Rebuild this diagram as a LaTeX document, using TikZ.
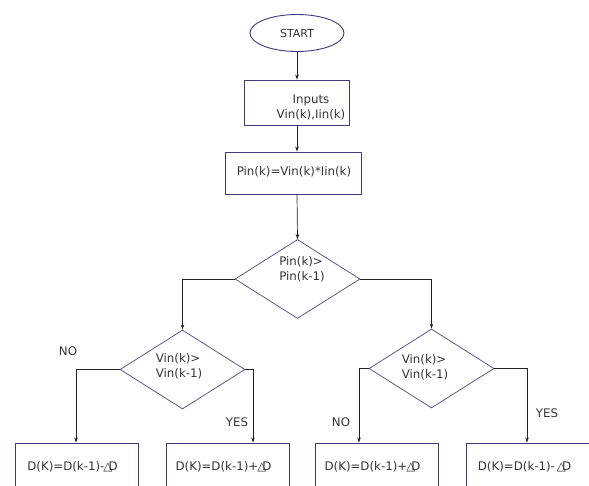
\documentclass[tikz,border=0pt]{standalone}
\usepackage{fontspec}
\setmainfont{DejaVu Sans}
\usetikzlibrary{shapes.geometric,arrows.meta}
\definecolor{shapeline}{HTML}{3C3C7E}
\definecolor{txt}{HTML}{333333}
\definecolor{conn}{HTML}{222222}
\begin{document}
\begin{tikzpicture}[x=1pt,y=-1pt,
  every node/.style={text=txt,font=\fontsize{11.8}{15}\selectfont},
  term/.style={ellipse,draw=shapeline,line width=0.9pt,minimum width=94,minimum height=37,inner sep=0pt},
  procbox/.style={rectangle,draw=shapeline,line width=0.9pt,inner sep=0pt},
  decision/.style={diamond,draw=shapeline!85!white,line width=0.8pt,minimum width=125,minimum height=79,inner sep=0pt,aspect=1.6},
  lbl/.style={inner sep=0pt},
  arr/.style={draw=conn,line width=0.7pt,-{Stealth[length=5pt,width=3.5pt]}}]
\path[use as bounding box] (0,0) rectangle (589,485);
\clip (0,0) rectangle (589,485);
% top
\node[term] (start) at (297,33) {\fontsize{11}{13}\selectfont START};
\node[procbox,minimum width=105,minimum height=45] (inputs) at (296.5,102.5) {};
\node[lbl,align=center] (inputstxt) at (311,107) {Inputs\\Vin(k),Iin(k)};
\node[procbox,minimum width=136,minimum height=42] (pin) at (293,173) {};
\node[lbl] (pintxt) at (294,172) {Pin(k)=Vin(k)*Iin(k)};
% decisions
\node[decision] (d1) at (297.5,279) {};
\node[lbl,align=left] (d1txt) at (302,269.5) {Pin(k)>\\Pin(k-1)};
\node[decision] (d2) at (182.5,369.5) {};
\node[lbl,align=left] (d2txt) at (179,366) {Vin(k)>\\Vin(k-1)};
\node[decision] (d3) at (431.5,368.5) {};
\node[lbl,align=left] (d3txt) at (425,367) {Vin(k)>\\Vin(k-1)};
% bottom boxes
\node[procbox,minimum width=123,minimum height=47] (b1) at (76.5,466.5) {D(K)=D(k-1)-\kern-1pt△\kern-4ptD\kern8pt};
\node[procbox,minimum width=123,minimum height=47] (b2) at (227.5,466.5) {D(K)=D(k-1)+\kern-1pt△\kern-4ptD\kern8pt};
\node[procbox,minimum width=123,minimum height=47] (b3) at (376.5,466.5) {D(K)=D(k-1)+\kern-1pt△\kern-4ptD\kern8pt};
\node[procbox,minimum width=123,minimum height=47] (b4) at (527.5,466.5) {D(K)=D(k-1)-\,△\kern-4ptD\kern6pt};
% connectors
\draw[arr] (start.south) -- (inputs.north -| start.south);
\draw[arr] (inputs.south -| start.south) -- (pin.north -| start.south);
\draw[arr] (pin.south -| start.south) -- (d1.north);
\draw[arr] (d1.west) -| (d2.north);
\draw[arr] (d1.east) -| (d3.north);
\draw[arr] (d2.west) -| ([xshift=-0.5pt]b1.north);
\draw[arr] (d2.east) -| ([xshift=25.5pt]b2.north);
\draw[arr] (d3.west) -| ([xshift=-17.5pt]b3.north);
\draw[arr] (d3.east) -| ([xshift=-0.5pt]b4.north);
% labels
\node[lbl] (no1) at (68,351) {NO};
\node[lbl] (yes1) at (237,422) {YES};
\node[lbl] (no2) at (341,422) {NO};
\node[lbl] (yes2) at (547,413) {YES};
\end{tikzpicture}
\end{document}
